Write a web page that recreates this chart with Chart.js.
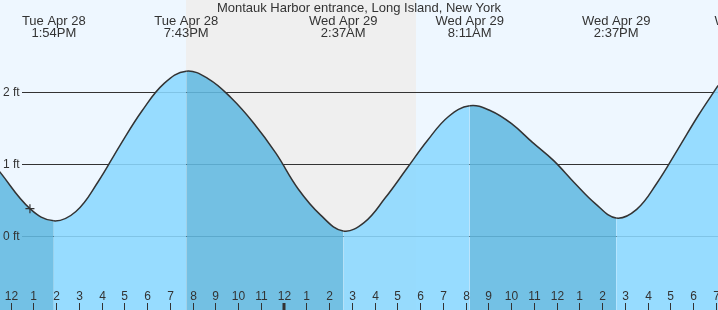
<!DOCTYPE html>
<html>
<head>
<meta charset="utf-8">
<title>Montauk Harbor entrance tide</title>
<script src="https://cdn.jsdelivr.net/npm/chart.js@4.4.1/dist/chart.umd.min.js"></script>
<style>
    html, body { margin: 0; padding: 0; background: #eef7ff; }
    #wrap { width: 718px; height: 310px; }
</style>
</head>
<body>
<div id="wrap"><canvas id="tide-chart" width="718" height="310"></canvas></div>
<script>
// hours counted from Tue Apr 28 00:00, tide height in feet (read off the curve,
// roughly every hour between each high and low)
const tideHours = [11.5, 12.85, 13.9,
                   14.87, 15.84, 16.81, 17.78, 18.75, 19.72,
                   20.71, 21.69, 22.68, 23.66, 24.65, 25.63, 26.62,
                   27.55, 28.47, 29.40, 30.33, 31.25, 32.18,
                   33.10, 34.02, 34.94, 35.86, 36.78, 37.70, 38.62,
                   39.52, 40.42, 41.32, 42.22, 43.1];
const tideFeet  = [0.90, 0.38, 0.21,
                   0.34, 0.75, 1.26, 1.74, 2.12, 2.29,
                   2.18, 1.92, 1.57, 1.15, 0.65, 0.29, 0.07,
                   0.19, 0.53, 0.93, 1.33, 1.66, 1.81,
                   1.74, 1.56, 1.30, 1.05, 0.74, 0.45, 0.25,
                   0.37, 0.74, 1.20, 1.67, 2.09];

// current time marker
const nowHour = [12.85];
const nowFeet = [0.38];

// high / low labels along the top
const eventHours = [13.9, 19.72, 26.62, 32.18, 38.62, 44.44];
const eventDays  = ['Tue Apr 28', 'Tue Apr 28', 'Wed Apr 29', 'Wed Apr 29', 'Wed Apr 29', 'Wed Apr 29'];
const eventTimes = ['1:54PM', '7:43PM', '2:37AM', '8:11AM', '2:37PM', '8:26PM'];

// night (sunset -> sunrise)
const nightStart = [19.72];
const nightEnd   = [29.82];

// axis ticks
const hourTicks  = [12, 13, 14, 15, 16, 17, 18, 19, 20, 21, 22, 23, 24, 25, 26, 27, 28, 29, 30, 31, 32, 33, 34, 35, 36, 37, 38, 39, 40, 41, 42, 43];
const hourLabels = ['12', '1', '2', '3', '4', '5', '6', '7', '8', '9', '10', '11', '12', '1', '2', '3', '4', '5', '6', '7', '8', '9', '10', '11', '12', '1', '2', '3', '4', '5', '6', '7'];
const midnightTicks = [24];
const feetTicks  = [0, 1, 2];
const feetLabels = ['0 ft', '1 ft', '2 ft'];

const titleText = 'Montauk Harbor entrance, Long Island, New York';

const BG = '#eef7ff';
const NIGHT = '#efefef';
const RISING = 'rgba(139, 216, 255, 0.88)';
const FALLING = 'rgba(98, 186, 225, 0.88)';
const INK = '#333333';
const FONT = '"Liberation Sans", Arial, sans-serif';

// background, night band, grid, and all the text
const tideDecor = {
    id: 'tideDecor',
    beforeDraw(chart) {
        const ctx = chart.ctx;
        const area = chart.chartArea;
        const xs = chart.scales.x;
        ctx.save();
        ctx.fillStyle = BG;
        ctx.fillRect(0, 0, chart.width, chart.height);
        ctx.fillStyle = NIGHT;
        for (let i = 0; i < nightStart.length; i++) {
            const x0 = Math.round(xs.getPixelForValue(nightStart[i]));
            const x1 = Math.round(xs.getPixelForValue(nightEnd[i]));
            ctx.fillRect(x0, area.top, x1 - x0, area.bottom - area.top);
        }
        ctx.restore();
    },
    beforeDatasetsDraw(chart) {
        const ctx = chart.ctx;
        const ys = chart.scales.y;
        ctx.save();
        ctx.strokeStyle = INK;
        ctx.lineWidth = 1;
        feetTicks.forEach(v => {
            const y = Math.round(ys.getPixelForValue(v)) + 0.5;
            ctx.beginPath();
            ctx.moveTo(22, y);
            ctx.lineTo(chart.chartArea.right, y);
            ctx.stroke();
        });
        ctx.restore();
    },
    afterDatasetsDraw(chart) {
        const ctx = chart.ctx;
        const xs = chart.scales.x;
        const ys = chart.scales.y;
        const bottom = chart.chartArea.bottom;
        ctx.save();
        ctx.fillStyle = INK;
        ctx.strokeStyle = INK;

        // y labels
        ctx.font = '12px ' + FONT;
        ctx.textAlign = 'left';
        ctx.textBaseline = 'middle';
        feetTicks.forEach((v, i) => {
            ctx.fillText(feetLabels[i], 3, ys.getPixelForValue(v) + 0.5);
        });

        // hour ticks along the bottom
        ctx.textAlign = 'center';
        ctx.textBaseline = 'alphabetic';
        hourTicks.forEach((h, i) => {
            const x = Math.round(xs.getPixelForValue(h));
            const thick = midnightTicks.includes(h);
            ctx.lineWidth = thick ? 3 : 1;
            ctx.beginPath();
            ctx.moveTo(thick ? x : x + 0.5, bottom - 7);
            ctx.lineTo(thick ? x : x + 0.5, bottom);
            ctx.stroke();
            ctx.fillText(hourLabels[i], x + 0.5, bottom - 10);
        });

        // high / low labels
        ctx.font = '13px ' + FONT;
        eventHours.forEach((h, i) => {
            const x = xs.getPixelForValue(h);
            ctx.fillText(eventDays[i], x, 24.5);
            ctx.fillText(eventTimes[i], x, 36.5);
        });

        // title
        ctx.fillText(titleText, chart.width / 2, 12);
        ctx.restore();
    }
};

const tidePoints = tideHours.map((h, i) => ({ x: h, y: tideFeet[i] }));
const nowPoints = nowHour.map((h, i) => ({ x: h, y: nowFeet[i] }));

new Chart(document.getElementById('tide-chart').getContext('2d'), {
    type: 'line',
    data: {
        datasets: [{
            label: 'now',
            data: nowPoints,
            showLine: false,
            pointStyle: 'cross',
            pointRadius: 4.5,
            pointBorderColor: INK,
            pointBorderWidth: 1.2,
            fill: false
        }, {
            label: 'tide',
            data: tidePoints,
            borderColor: INK,
            borderWidth: 1.5,
            pointRadius: 0,
            tension: 0.4,
            fill: 'start',
            backgroundColor: RISING,
            segment: {
                backgroundColor: c => c.p1.parsed.y > c.p0.parsed.y ? RISING : FALLING
            }
        }]
    },
    options: {
        responsive: false,
        animation: false,
        devicePixelRatio: 1,
        layout: { padding: 0, autoPadding: false },
        plugins: {
            legend: { display: false },
            tooltip: { enabled: false },
            title: { display: false }
        },
        scales: {
            x: {
                type: 'linear',
                display: false,
                bounds: 'data',
                min: 11.534,
                max: 43.094
            },
            y: {
                type: 'linear',
                display: false,
                bounds: 'data',
                min: -1.028,
                max: 3.278
            }
        }
    },
    plugins: [tideDecor]
});
</script>
</body>
</html>
